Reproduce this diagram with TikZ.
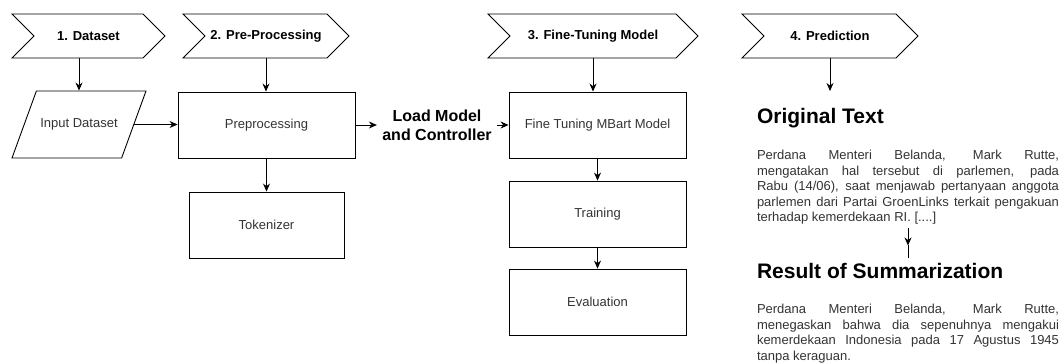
\documentclass[tikz,border=0pt]{standalone}
\usepackage{fontspec}
\setmainfont{Liberation Sans}
\usepackage{xcolor}
\usepackage{tikz}
\usetikzlibrary{shapes.symbols,shapes.geometric,arrows.meta,calc}

\newcommand{\blockheadfont}{\fontsize{21}{25}\selectfont\bfseries\color{black}}

\begin{document}
\begin{tikzpicture}[x=1pt,y=-1pt,line width=0.9pt,
  stage/.style={draw, signal, signal from=west, signal to=east, signal pointer angle=90,
    minimum height=44pt, inner sep=0pt, font=\fontsize{13}{15.6}\selectfont\bfseries},
  box/.style={draw, rectangle, minimum width=177pt, minimum height=66pt, inner sep=0pt,
    text=black!80, font=\fontsize{13}{15.6}\selectfont},
  arr/.style={-{Stealth[length=8pt,width=7pt]}},
  txtblock/.style={anchor=north, inner sep=0pt, text width=302pt, align=justify,
    text=black!80, font=\fontsize{13}{15.6}\selectfont,
    execute at begin node={\tolerance=10000\hbadness=10000\hyphenpenalty=10000}}]
\useasboundingbox (0,0) rectangle (1062,362);

\node[stage, minimum width=153pt] (s1) at (88.5,36) {1. Dataset};
\node[stage, minimum width=166pt] (s2) at (266,36) {2. Pre-Processing};
\node[stage, minimum width=210pt] (s3) at (593,36) {3. Fine-Tuning Model};
\node[stage, minimum width=176pt] (s4) at (830,36) {4. Prediction};

\node[draw, trapezium, trapezium left angle=70, trapezium right angle=110, trapezium stretches body=true,
  text height=9pt, text depth=3pt, inner xsep=0pt, inner ysep=27.5pt, minimum width=134pt,
  text=black!80, font=\fontsize{13}{15.6}\selectfont] (input) at (79,124.5) {Input Dataset};
\node[box] (prep) at (266.5,125) {Preprocessing};
\node[box, minimum width=155pt] (tok) at (266.5,225) {Tokenizer};
\node[align=center, inner xsep=5pt, font=\fontsize{16}{19}\selectfont\bfseries] (load) at (437,125) {Load Model\\and Controller};
\node[box] (ft) at (597.5,125) {Fine Tuning MBart Model};
\node[box] (train) at (597.5,214) {Training};
\node[box] (eval) at (597.5,302) {Evaluation};

\node[txtblock, text height=32pt] (orig) at (908,91) {{\blockheadfont Original Text}\par\vspace{20.4pt}%
Perdana Menteri Belanda, Mark Rutte,\linebreak mengatakan hal tersebut di parlemen, pada\linebreak
Rabu (14/06), saat menjawab pertanyaan anggota\linebreak parlemen dari Partai GroenLinks terkait pengakuan\linebreak
terhadap kemerdekaan RI. [....]};
\node[txtblock, text height=20.5pt] (res) at (908,258) {{\blockheadfont Result of Summarization}\par\vspace{19pt}%
Perdana Menteri Belanda, Mark Rutte,\linebreak menegaskan bahwa dia sepenuhnya mengakui\linebreak
kemerdekaan Indonesia pada 17 Agustus 1945\linebreak tanpa keraguan.};
\coordinate (restip) at ($(orig.south)!0.62!(res.north)$);

\draw[arr] (s1.south -| input.north) -- (input.north);
\draw[arr] (s2.south) -- (s2.south |- prep.north);
\draw[arr] (input.east) -- (input.east -| prep.west);
\draw[arr] (prep) -- (tok);
\draw[arr] (prep) -- (load);
\draw[arr] (load) -- (ft);
\draw[arr] (s3.south) -- (s3.south |- ft.north);
\draw[arr] (ft) -- (train);
\draw[arr] (train) -- (eval);
\draw[arr] (s4.south) -- (s4.south |- orig.north);
\draw[arr] ([yshift=-3pt]orig.south) -- (restip);
\draw (restip) -- (res.north);
\end{tikzpicture}
\end{document}
